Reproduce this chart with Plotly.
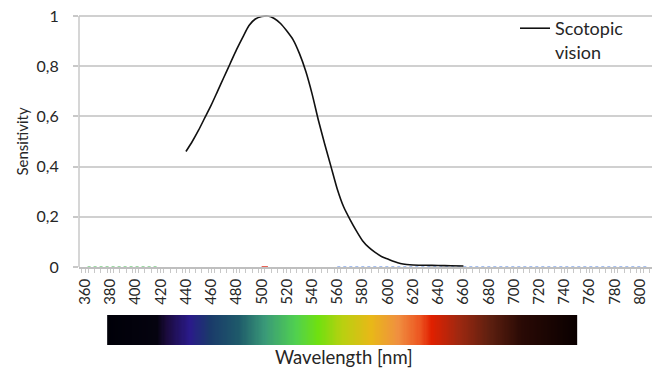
import numpy as np
import plotly.graph_objects as go

# Scotopic sensitivity curve
wavelength = [440, 445, 450, 455, 460, 465, 470, 475, 480, 485, 490, 495, 500, 505,
              510, 515, 520, 525, 530, 535, 540, 545, 550, 555, 560, 565, 570, 575,
              580, 585, 590, 595, 600, 605, 610, 615, 620, 630, 640, 650, 660]
sensitivity = [0.46, 0.50, 0.545, 0.595, 0.645, 0.70, 0.755, 0.81, 0.865, 0.915, 0.962, 0.988,
               0.998, 1.0, 0.99, 0.97, 0.94, 0.905, 0.85, 0.78, 0.69, 0.585, 0.49, 0.40,
               0.31, 0.24, 0.19, 0.145, 0.105, 0.078, 0.058, 0.042, 0.032, 0.022, 0.014,
               0.010, 0.008, 0.007, 0.006, 0.005, 0.004]

y_ticks = [0, 0.2, 0.4, 0.6, 0.8, 1]
y_ticklabels = ["0", "0,2", "0,4", "0,6", "0,8", "1"]
x_ticks = list(range(360, 801, 20))

# spectrum bar colour stops (wavelength nm, colour)
spec_nm = [378, 417, 424, 443, 459, 482, 503, 527, 545, 564, 587, 608, 626, 635, 656, 680, 706, 750]
spec_col = ["#000008", "#05030f", "#1a0a3a", "#2a1a8a", "#1a3a6a", "#1e5a6a", "#3a9a78",
            "#50d050", "#70e010", "#b8d010", "#e8b818", "#f09040", "#ec5420", "#e02000",
            "#a02810", "#602010", "#2a0a05", "#0a0000"]

FONT = "Lato"
GRID = "#d0d0d0"
AXIS = "#c8c8c8"
fig = go.Figure()

# faint coloured zero-valued series along the axis
fig.add_trace(go.Scatter(x=[362, 418], y=[0, 0], mode="lines",
                         line=dict(color="#3cb44b", width=1, dash="dot"),
                         showlegend=False, hoverinfo="skip", cliponaxis=False))
fig.add_trace(go.Scatter(x=[500, 505], y=[0, 0], mode="lines",
                         line=dict(color="#e03020", width=1.5),
                         showlegend=False, hoverinfo="skip", cliponaxis=False))
fig.add_trace(go.Scatter(x=[560, 805], y=[0, 0], mode="lines",
                         line=dict(color="#4a7fe0", width=1, dash="dot"),
                         showlegend=False, hoverinfo="skip", cliponaxis=False))

fig.add_trace(go.Scatter(x=wavelength, y=sensitivity, mode="lines",
                         line=dict(color="#111111", width=1.6, shape="spline", smoothing=0.6),
                         name="Scotopic<br>vision", cliponaxis=False))

# spectrum bar
lo, hi = spec_nm[0], spec_nm[-1]
cs = [[(w - lo) / (hi - lo), c] for w, c in zip(spec_nm, spec_col)]
bar_x = np.linspace(lo, hi, 400)
fig.add_trace(go.Heatmap(x=bar_x, y=[0, 1], z=[bar_x, bar_x], colorscale=cs,
                         zmin=lo, zmax=hi, showscale=False, hoverinfo="skip",
                         xaxis="x2", yaxis="y2"))

# page body has an 8px margin: figure is sized/placed so the plot lands at the reference pixels
OFF = 8
W, H = 660 - OFF, 372 - OFF
Y_TOPVAL = 1.02                 # y range headroom so the top grid line is drawn inside the plot
H_ONE, H_ZERO = 16, 267         # screen pixels of y=1 and y=0
H_TOP = H_ZERO - (H_ZERO - H_ONE) * Y_TOPVAL
H_BOT = 345                     # screen pixel of spectrum-bar bottom
L, R = 79, 653                  # screen pixels of plot-area left / right
plot_h = H_BOT - H_TOP
plot_w = R - L
main_bottom = (H_BOT - H_ZERO) / plot_h
bar_top = (H_BOT - 315) / plot_h

xtick_font = dict(family=FONT, size=15, color="#262626")
ytick_font = dict(family=FONT, size=16, color="#262626")

fig.update_layout(
    width=W, height=H,
    margin=dict(l=L - OFF, r=W - (R - OFF), t=H_TOP - OFF, b=H - (H_BOT - OFF), autoexpand=False),
    paper_bgcolor="white", plot_bgcolor="white",
    font=dict(family=FONT, size=15, color="#262626"),
    xaxis=dict(range=[355.2, 810.3], tickmode="array", tickvals=x_ticks,
               ticktext=[str(v) for v in x_ticks], tickangle=-90, tickfont=xtick_font,
               showgrid=False, zeroline=False, showline=True, linecolor="#bfbfbf", linewidth=1.5,
               ticks="outside", ticklen=4, tickcolor=AXIS, tickwidth=1,
               minor=dict(ticks="outside", dtick=5, tick0=357.5, ticklen=4, tickcolor=AXIS, tickwidth=1),
               anchor="y", fixedrange=True, ticklabeloverflow="allow"),
    yaxis=dict(domain=[main_bottom, 1], range=[0, Y_TOPVAL], tickmode="array", tickvals=y_ticks,
               ticktext=y_ticklabels, tickfont=ytick_font, showgrid=True, gridcolor=GRID,
               gridwidth=1.6, zeroline=False, showline=False,
               ticks="outside", ticklen=16, tickcolor="rgba(0,0,0,0)",
               minor=dict(ticks="outside", dtick=0.2, tick0=0, ticklen=5, tickcolor=AXIS,
                          tickwidth=1.5, showgrid=False),
               anchor="x", fixedrange=True, ticklabeloverflow="allow"),
    xaxis2=dict(matches="x", anchor="y2", visible=False),
    yaxis2=dict(domain=[0, bar_top], range=[-0.5, 1.5], visible=False),
    legend=dict(x=(515 - L) / plot_w, y=(H_BOT - 10) / plot_h, xanchor="left", yanchor="top",
                bgcolor="rgba(255,255,255,0)", font=dict(family=FONT, size=18, color="#262626"),
                valign="top", tracegroupgap=0, itemwidth=30),
    showlegend=True,
    shapes=[
        # top grid line at the highest tick
        dict(type="line", xref="paper", yref="y", x0=0, x1=1, y0=y_ticks[-1], y1=y_ticks[-1],
             line=dict(color=GRID, width=1.6), layer="above"),
        # vertical value-axis line, from 0 up to the top tick only
        dict(type="line", xref="paper", yref="y", x0=0, x1=0, y0=y_ticks[0], y1=y_ticks[-1],
             line=dict(color=AXIS, width=1.5), layer="above"),
    ],
    annotations=[
        dict(text="Sensitivity", textangle=-90, x=(22 - L) / plot_w, y=(H_BOT - 141.5) / plot_h,
             xref="paper", yref="paper", showarrow=False, xanchor="center", yanchor="middle",
             font=dict(family=FONT, size=15, color="#262626")),
        dict(text="Wavelength [nm]", x=(344 - L) / plot_w, y=(H_BOT - 357) / plot_h,
             xref="paper", yref="paper", showarrow=False, xanchor="center", yanchor="middle",
             font=dict(family=FONT, size=18.5, color="#262626")),
    ],
)

fig.write_html("out.html")
